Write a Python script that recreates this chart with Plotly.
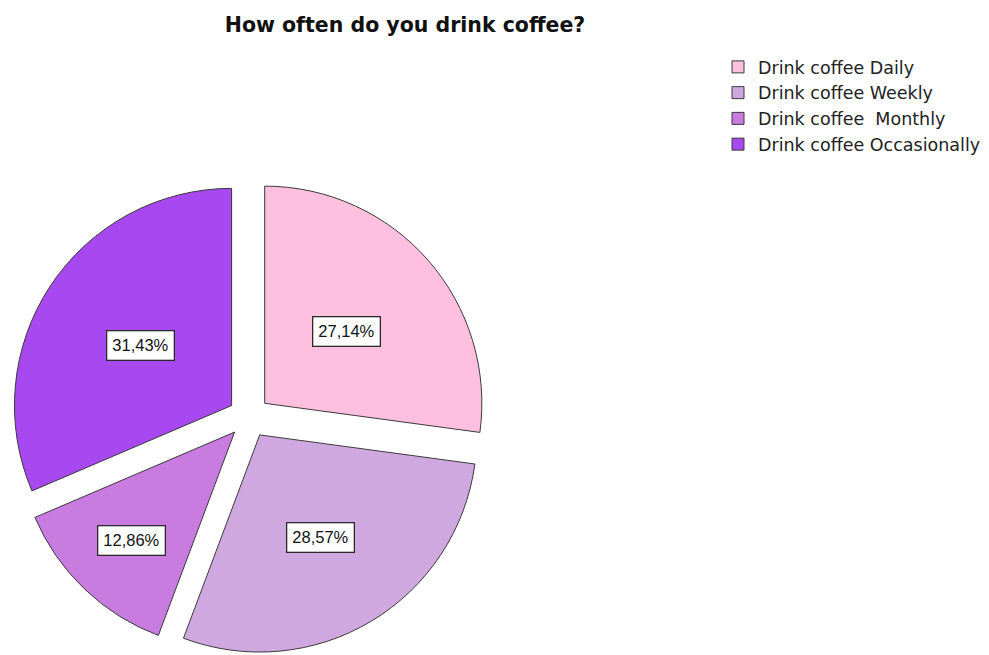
import math
import plotly.graph_objects as go

# Survey answers and their shares (%)
categories = ["Drink coffee Daily", "Drink coffee Weekly", "Drink coffee  Monthly", "Drink coffee Occasionally"]
shares = [27.14, 28.57, 12.86, 31.43]
slice_colors = ["#FFC0E0", "#D0A8E0", "#C87CE0", "#A848F0"]

W, H = 989, 655
PULL = 0.096
# pie domain in pixels (left, right, top, bottom)
DOM_L, DOM_R, DOM_T, DOM_B = 11, 487, 179, 655
# radial position of each percentage box, as a fraction of the radius
label_radius = [0.5, 0.55, 0.69, 0.5]

fig = go.Figure()
fig.add_trace(go.Pie(
    labels=categories,
    values=shares,
    sort=False,
    direction="clockwise",
    rotation=0,
    pull=[PULL] * len(shares),
    marker=dict(colors=slice_colors, line=dict(color="#3a3a3a", width=1)),
    textinfo="none",
    hoverinfo="label+percent",
    domain=dict(x=[DOM_L / W, DOM_R / W], y=[1 - DOM_B / H, 1 - DOM_T / H]),
))

# percentage boxes placed along each slice's mid-angle
cx = (DOM_L + DOM_R) / 2
cy = (DOM_T + DOM_B) / 2
R = min(DOM_R - DOM_L, DOM_B - DOM_T) / 2 / (1 + PULL)
total = sum(shares)
cum = 0.0
annotations = []
for val, frac in zip(shares, label_radius):
    mid = (cum + val / 2) / total * 2 * math.pi
    cum += val
    dist = PULL * R + frac * R
    px = cx + math.sin(mid) * dist
    py = cy - math.cos(mid) * dist
    annotations.append(dict(
        x=px / W, y=1 - py / H, xref="paper", yref="paper",
        xanchor="center", yanchor="middle",
        text=f"{val:.2f}%".replace(".", ","),
        showarrow=False,
        font=dict(family="Liberation Sans, Arial, sans-serif", size=16.5, color="#111111"),
        bgcolor="white", bordercolor="#2a2a2a", borderwidth=1.3, borderpad=5,
    ))

fig.update_layout(
    width=W, height=H,
    margin=dict(l=0, r=0, t=0, b=0),
    paper_bgcolor="white", plot_bgcolor="white",
    title=dict(
        text="<b>How often do you drink coffee?</b>",
        x=405 / W, xanchor="center", y=1 - 25 / H, yanchor="middle",
        font=dict(family="DejaVu Sans, sans-serif", size=20.5, color="#111111"),
    ),
    legend=dict(
        x=718 / W, xanchor="left", y=1 - 49 / H, yanchor="top",
        font=dict(family="DejaVu Sans, sans-serif", size=17.5, color="#222222"),
        bgcolor="rgba(255,255,255,0)", tracegroupgap=0, itemwidth=30,
    ),
    annotations=annotations,
)

fig.write_html("out.html")
